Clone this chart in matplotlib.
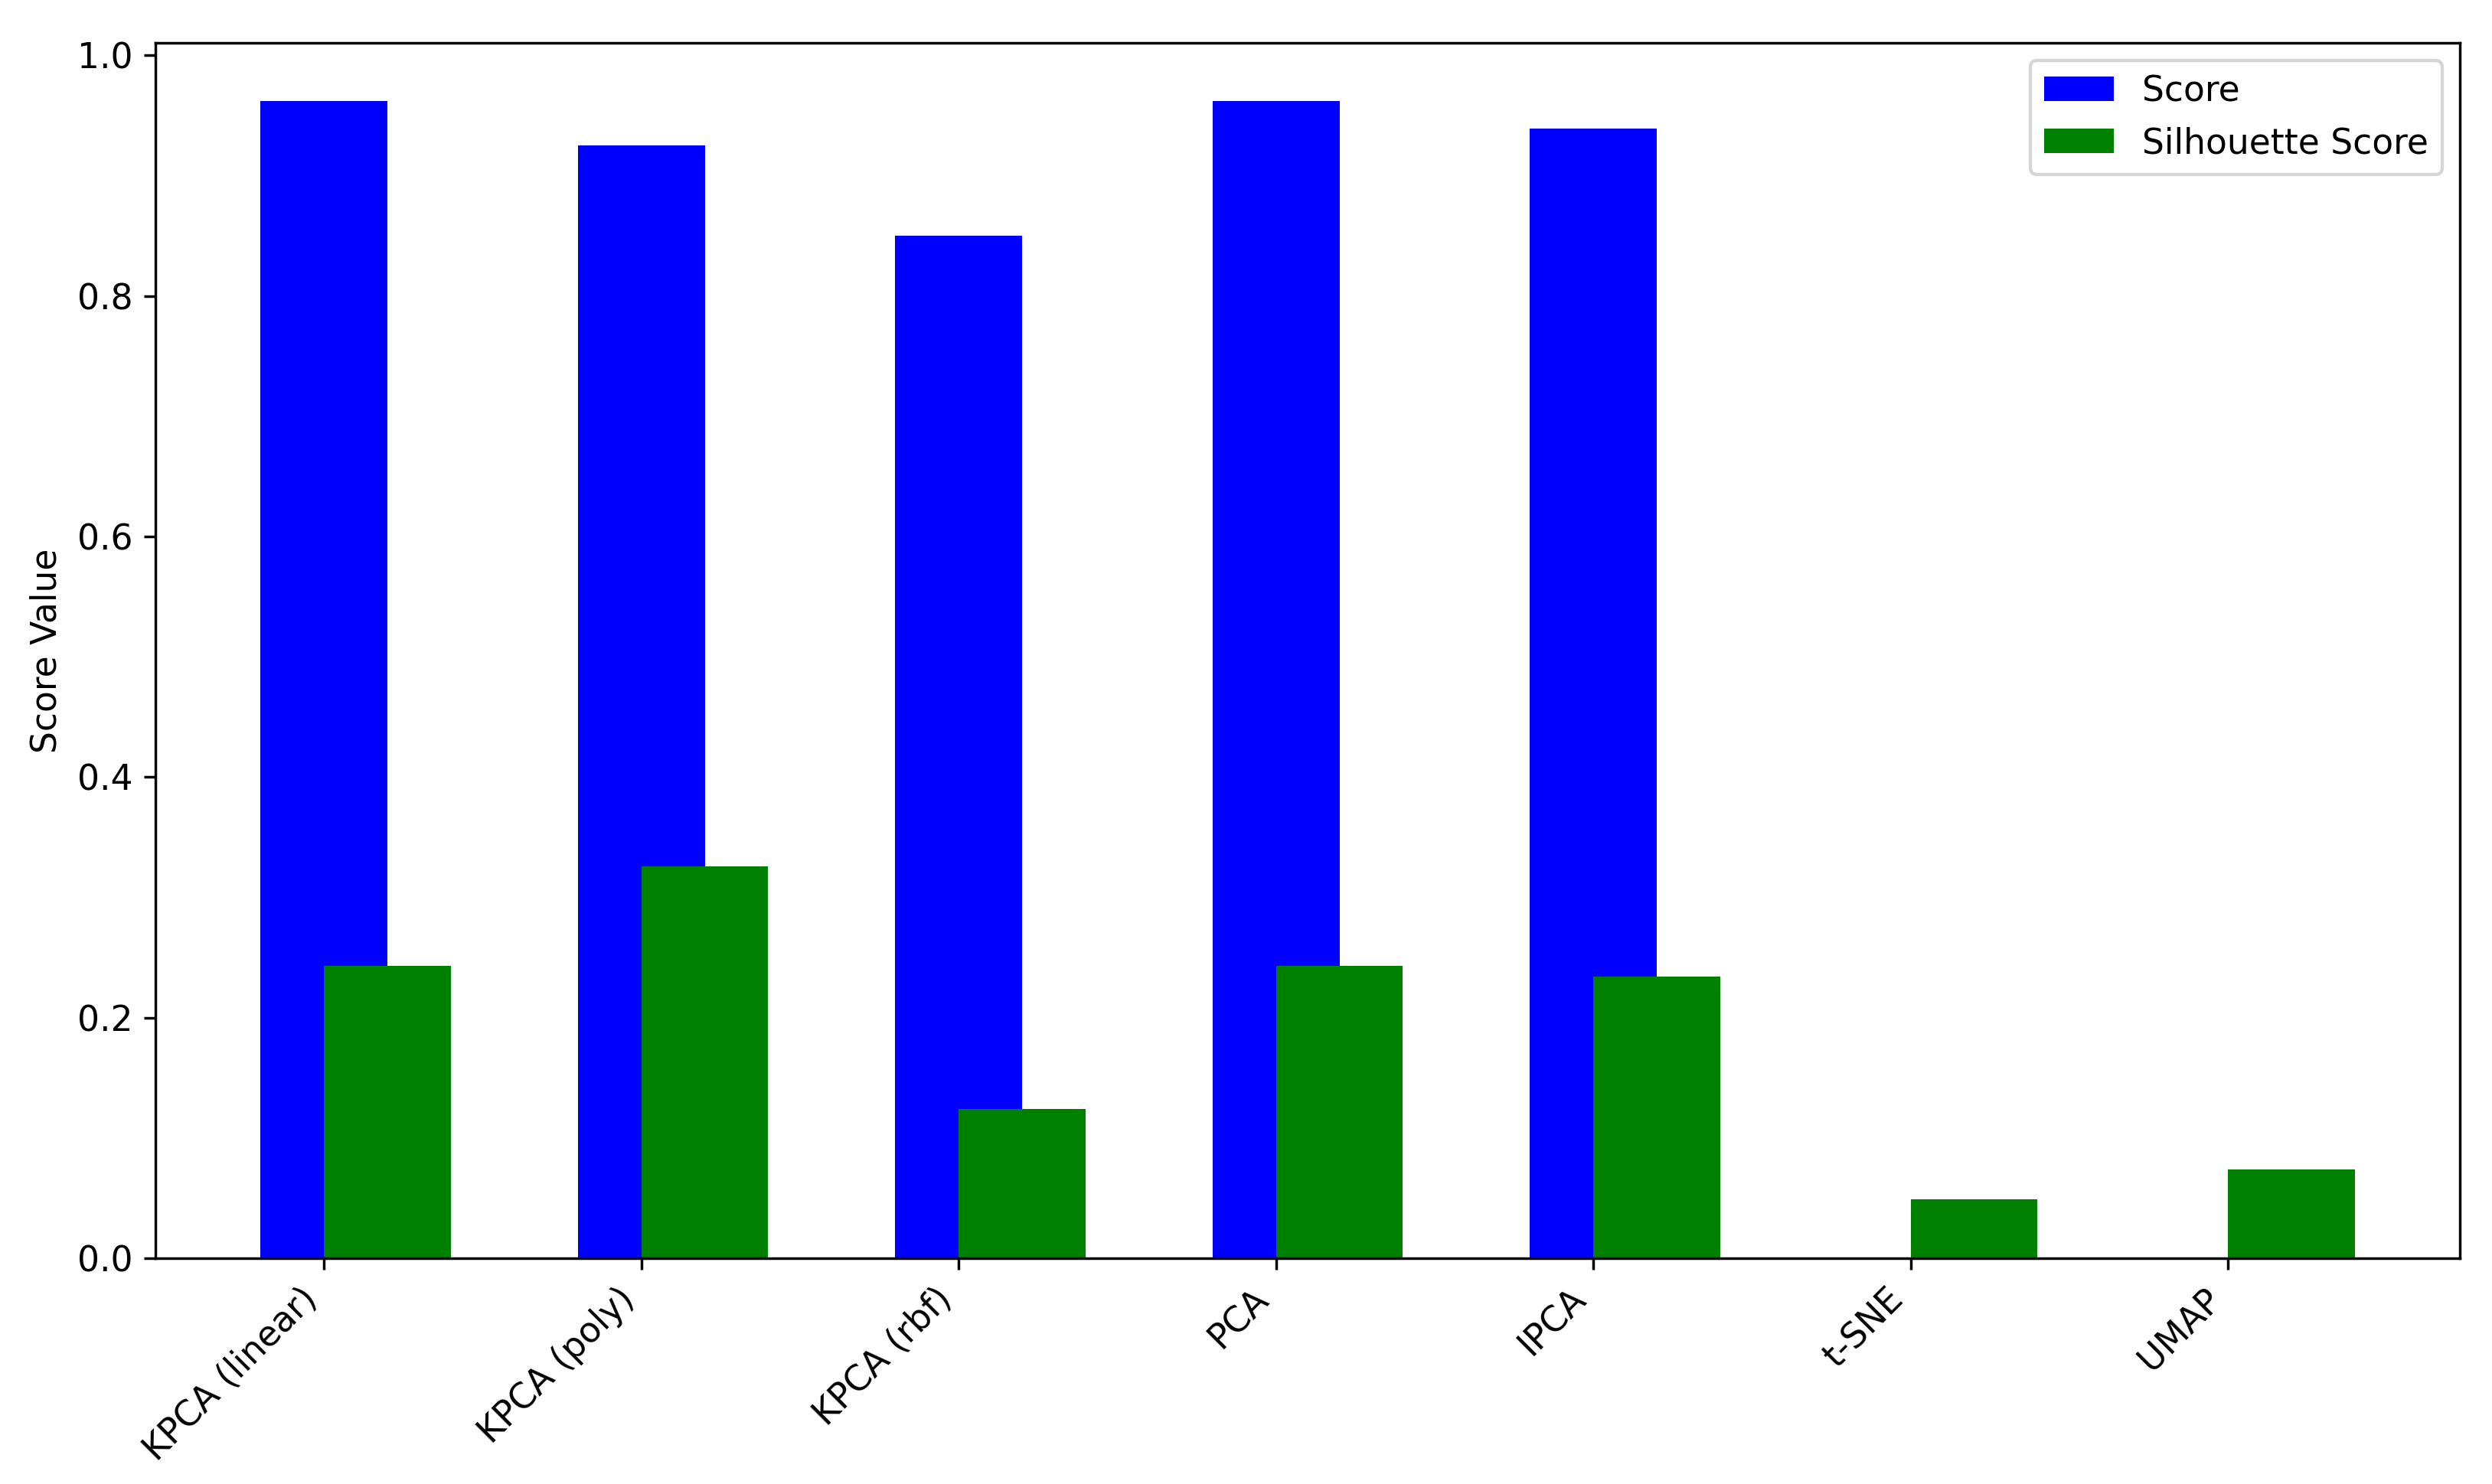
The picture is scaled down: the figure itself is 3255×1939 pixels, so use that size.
import matplotlib
matplotlib.use("Agg")
import matplotlib.pyplot as plt
import numpy as np

methods = ["KPCA (linear)", "KPCA (poly)", "KPCA (rbf)", "PCA", "IPCA", "t-SNE", "UMAP"]
score = [0.962, 0.925, 0.850, 0.962, 0.939, 0.0, 0.0]
silhouette = [0.243, 0.326, 0.124, 0.243, 0.234, 0.049, 0.074]

plt.rcParams["font.size"] = 10.6

x = np.arange(len(methods))
width = 0.4

fig, ax = plt.subplots(figsize=(3255 / 310, 1939 / 310))
ax.bar(x, score, width, color="blue", label="Score")
ax.bar(x + width / 2, silhouette, width, color="green", label="Silhouette Score")
ax.set_ylabel("Score Value")
ax.set_xticks(x)
ax.set_xticklabels(methods, rotation=45, ha="right")
ax.legend(loc="upper right")
fig.subplots_adjust(left=0.0625, right=0.987, top=0.971, bottom=0.152)
fig.savefig("out.png", dpi=310)
